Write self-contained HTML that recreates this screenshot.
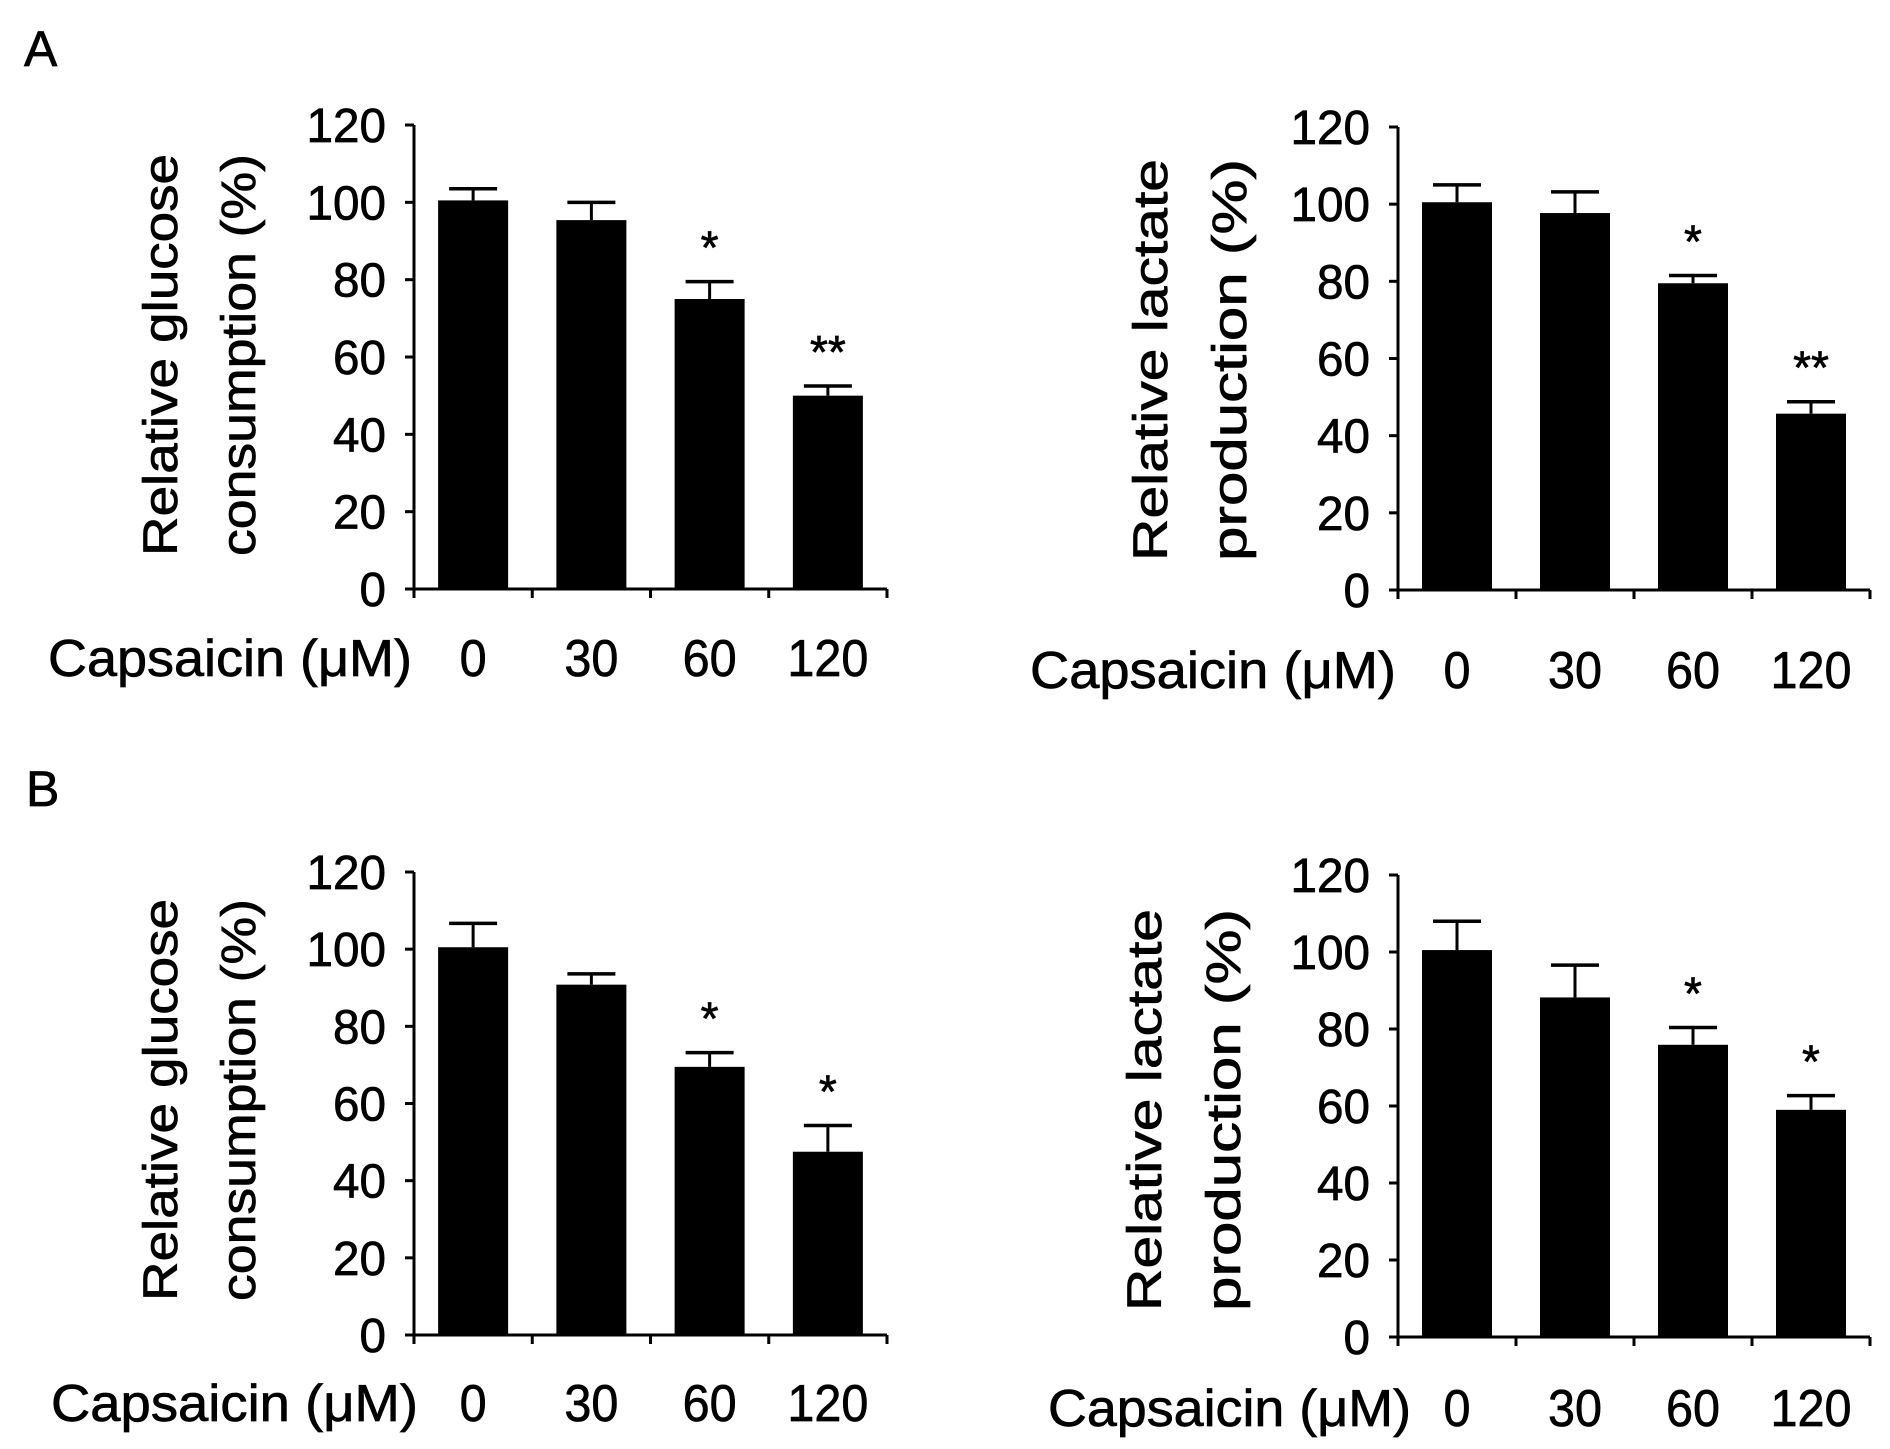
<!DOCTYPE html>
<html><head><meta charset="utf-8"><style>
html,body{margin:0;padding:0;background:#fff;}
svg{display:block;font-family:"Liberation Sans",Arial,sans-serif;}
svg text{stroke:#000;stroke-width:0.7px;}
</style></head><body>
<svg id="fig" width="1890" height="1449" viewBox="0 0 1890 1449" xmlns="http://www.w3.org/2000/svg">
<text x="24" y="66" font-size="50">A</text>
<text x="26" y="806" font-size="50">B</text>
</svg>
<script>
const categories = ["0", "30", "60", "120"];
const yTicks = [0, 20, 40, 60, 80, 100, 120];
const aGlucoseValues = [100.5, 95.4, 75, 50];
const aGlucoseErrors = [103.5, 100, 79.5, 52.5];
const aGlucoseStars = ["", "", "*", "**"];
const aLactateValues = [100.5, 97.7, 79.5, 45.7];
const aLactateErrors = [105, 103.2, 81.5, 48.8];
const aLactateStars = ["", "", "*", "**"];
const bGlucoseValues = [100.5, 90.8, 69.5, 47.5];
const bGlucoseErrors = [106.7, 93.6, 73.2, 54.3];
const bGlucoseStars = ["", "", "*", "*"];
const bLactateValues = [100.5, 88.2, 75.9, 59];
const bLactateErrors = [108, 96.6, 80.4, 62.7];
const bLactateStars = ["", "", "*", "*"];

const NS = "http://www.w3.org/2000/svg";
const svg = document.getElementById('fig');
function mk(tag, attrs, parent) {
  const e = document.createElementNS(NS, tag);
  for (const k in attrs) e.setAttribute(k, attrs[k]);
  (parent || svg).appendChild(e);
  return e;
}
const panels = [
  {id:'a-glucose', ax:414, xEnd:887, y0:589, y120:125, t1:'Relative glucose', t2:'consumption (%)', tx1:161, tx2:239, tcy:355, capX1:48, capX2:412, capY:676, vals:aGlucoseValues, errs:aGlucoseErrors, stars:aGlucoseStars},
  {id:'a-lactate', ax:1398, xEnd:1870, y0:590, y120:127, t1:'Relative lactate', t2:'production (%)', tx1:1151, tx2:1230, tcy:360, capX1:1030, capX2:1396, capY:688, vals:aLactateValues, errs:aLactateErrors, stars:aLactateStars},
  {id:'b-glucose', ax:414, xEnd:887, y0:1335, y120:872, t1:'Relative glucose', t2:'consumption (%)', tx1:161, tx2:239, tcy:1100, capX1:51, capX2:418, capY:1421, vals:bGlucoseValues, errs:bGlucoseErrors, stars:bGlucoseStars},
  {id:'b-lactate', ax:1398, xEnd:1870, y0:1337, y120:875, t1:'Relative lactate', t2:'production (%)', tx1:1145, tx2:1224, tcy:1110, capX1:1048, capX2:1411, capY:1426, vals:bLactateValues, errs:bLactateErrors, stars:bLactateStars}
];
panels.forEach(p => {
  const g = mk('g', {});
  
  
  const yS = v => p.y0 + (p.y120 - p.y0) * v / 120;
  const band = (p.xEnd - p.ax) / categories.length;
  const xC = i => p.ax + band * (i + 0.5);
  const yl = mk('line', {x1:p.ax, y1:p.y120, x2:p.ax, y2:p.y0, stroke:'#000', 'stroke-width':3}, g);
  
  
  yTicks.forEach(t => {
    const y = yS(t);
    const tk = mk('line', {x1:p.ax - 9, y1:y, x2:p.ax, y2:y, stroke:'#000', 'stroke-width':3}, g);
    
    
    const s = String(t);
    const tl = mk('text', {x:p.ax - 28, y:y + 17, 'font-size':48, 'text-anchor':'end', textLength: s.length * 26.5, lengthAdjust:'spacingAndGlyphs'}, g);
    tl.textContent = s;
    
    
  });
  const xl = mk('line', {x1:p.ax - 9, y1:p.y0, x2:p.xEnd, y2:p.y0, stroke:'#000', 'stroke-width':3}, g);
  
  
  for (let i = 0; i <= categories.length; i++) {
    const x = p.ax + band * i;
    const tk = mk('line', {x1:x, y1:p.y0, x2:x, y2:p.y0 + 9, stroke:'#000', 'stroke-width':3}, g);
    
    
  }
  categories.forEach((c, i) => {
    const cx = xC(i), bw = 70;
    const top = yS(p.vals[i]), et = yS(p.errs[i]);
    const el = mk('line', {x1:cx, y1:top, x2:cx, y2:et, stroke:'#000', 'stroke-width':3}, g);
    
    
    const ec = mk('line', {x1:cx - 24, y1:et, x2:cx + 24, y2:et, stroke:'#000', 'stroke-width':3.5}, g);
    
    
    const r = mk('rect', {x:cx - bw / 2, y:top, width:bw, height:p.y0 - top, fill:'#000'}, g);
    
    
    if (p.stars[i]) {
      const st = mk('text', {x:cx, y:et - 18, 'font-size':46, 'text-anchor':'middle'}, g);
      st.textContent = p.stars[i];
      
      
    }
    const cl = mk('text', {x:cx, y:p.capY, 'font-size':52, 'text-anchor':'middle', textLength: c.length * 27, lengthAdjust:'spacingAndGlyphs'}, g);
    cl.textContent = c;
    
    
  });
  const cap = mk('text', {x:p.capX1, y:p.capY, 'font-size':52, textLength:p.capX2 - p.capX1, lengthAdjust:'spacingAndGlyphs'}, g);
  cap.textContent = 'Capsaicin (\u03BCM)';
  
  
  const t1 = mk('text', {x:0, y:0, 'font-size':48, 'text-anchor':'middle', textLength:402, lengthAdjust:'spacingAndGlyphs', transform:'translate(' + (p.tx1 + 16) + ',' + p.tcy + ') rotate(-90)'}, g);
  t1.textContent = p.t1;
  
  
  const t2 = mk('text', {x:0, y:0, 'font-size':48, 'text-anchor':'middle', textLength:402, lengthAdjust:'spacingAndGlyphs', transform:'translate(' + (p.tx2 + 16) + ',' + p.tcy + ') rotate(-90)'}, g);
  t2.textContent = p.t2;
  
  
});
</script>
</body></html>
